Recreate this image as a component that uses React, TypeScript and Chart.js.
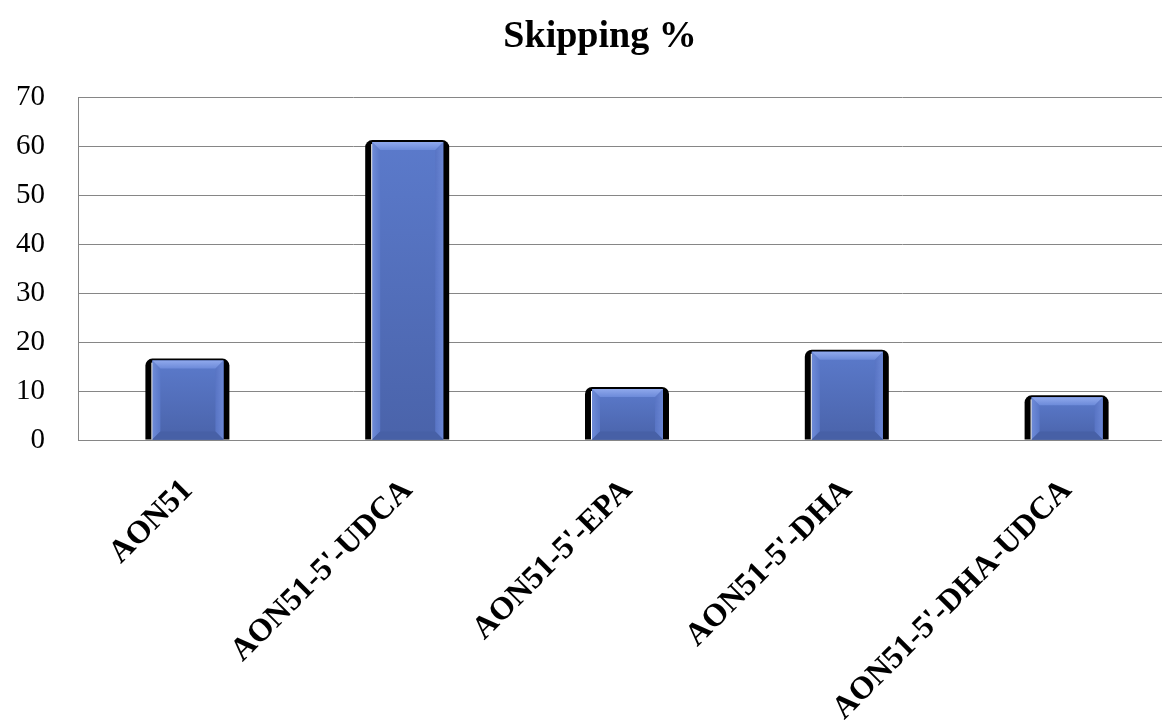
import React, { useEffect, useRef } from 'react';
import { Chart, registerables } from 'chart.js';

Chart.register(...registerables);

// Exon skipping efficiency per construct
const categories = ['AON51', "AON51-5'-UDCA", "AON51-5'-EPA", "AON51-5'-DHA", "AON51-5'-DHA-UDCA"];
const skippingPercent = [16.2, 60.8, 10.4, 18.0, 8.7];
const yTickValues = [0, 10, 20, 30, 40, 50, 60, 70];
const chartTitle = 'Skipping %';

const GRID = '#868686';
const SERIF = '"Liberation Serif", "DejaVu Serif", serif';

// Black drop shadow behind each bar, drawn before the bars themselves
const barShadow = {
  id: 'barShadow',
  beforeDatasetsDraw(chart: any) {
    const ctx = chart.ctx;
    const meta = chart.getDatasetMeta(0);
    ctx.save();
    meta.data.forEach((el: any) => {
      const { x, y, base, width } = el.getProps(['x', 'y', 'base', 'width'], true);
      const x0 = x - width / 2 - 7;
      const x1 = x + width / 2 + 6;
      const top = y - 2;
      ctx.beginPath();
      ctx.roundRect(x0, top, x1 - x0, base - top, [7, 7, 0, 0]);
      ctx.fillStyle = '#000';
      ctx.fill();
    });
    ctx.restore();
  },
};

// Bevelled blue body for each bar
const barBevel = {
  id: 'barBevel',
  afterDatasetsDraw(chart: any) {
    const ctx = chart.ctx;
    const meta = chart.getDatasetMeta(0);
    const yScale = chart.scales.y;
    const area = chart.chartArea;
    ctx.save();
    meta.data.forEach((el: any) => {
      const { x, y, base, width } = el.getProps(['x', 'y', 'base', 'width'], true);
      const x0 = x - width / 2;
      const x1 = x + width / 2;
      const h = base - y;
      const b = Math.min(8, h / 2);

      const body = ctx.createLinearGradient(0, y, 0, base);
      body.addColorStop(0, '#5b7acb');
      body.addColorStop(1, '#4a63aa');
      ctx.fillStyle = body;
      ctx.fillRect(x0, y, width, h);

      // left face
      const lg = ctx.createLinearGradient(x0, 0, x0 + b, 0);
      lg.addColorStop(0, '#6e8bd8');
      lg.addColorStop(1, '#5a78c8');
      ctx.fillStyle = lg;
      ctx.beginPath();
      ctx.moveTo(x0, y);
      ctx.lineTo(x0 + b, y + b);
      ctx.lineTo(x0 + b, base - b);
      ctx.lineTo(x0, base);
      ctx.closePath();
      ctx.fill();

      // right face
      const rg = ctx.createLinearGradient(x1 - b, 0, x1, 0);
      rg.addColorStop(0, '#5874c4');
      rg.addColorStop(1, '#6a86d4');
      ctx.fillStyle = rg;
      ctx.beginPath();
      ctx.moveTo(x1, y);
      ctx.lineTo(x1 - b, y + b);
      ctx.lineTo(x1 - b, base - b);
      ctx.lineTo(x1, base);
      ctx.closePath();
      ctx.fill();

      // bottom face
      ctx.fillStyle = '#4760a6';
      ctx.beginPath();
      ctx.moveTo(x0, base);
      ctx.lineTo(x0 + b, base - b);
      ctx.lineTo(x1 - b, base - b);
      ctx.lineTo(x1, base);
      ctx.closePath();
      ctx.fill();

      // top face
      const tg = ctx.createLinearGradient(0, y, 0, y + b);
      tg.addColorStop(0, '#8fa8ec');
      tg.addColorStop(1, '#6c8ad9');
      ctx.fillStyle = tg;
      ctx.beginPath();
      ctx.moveTo(x0, y);
      ctx.lineTo(x1, y);
      ctx.lineTo(x1 - b, y + b);
      ctx.lineTo(x0 + b, y + b);
      ctx.closePath();
      ctx.fill();

      // thin light edge on the left side
      ctx.fillStyle = '#ffffff';
      ctx.fillRect(x0 - 1, y + 2, 1, h - 2);
    });

    // zero line over the bar bases
    const y0 = Math.round(yScale.getPixelForValue(0)) + 0.5;
    ctx.strokeStyle = GRID;
    ctx.lineWidth = 1;
    ctx.beginPath();
    ctx.moveTo(area.left, y0);
    ctx.lineTo(area.right, y0);
    ctx.stroke();
    ctx.restore();
  },
};

const titlePlugin = {
  id: 'titleText',
  afterDraw(chart: any) {
    const ctx = chart.ctx;
    ctx.save();
    ctx.font = `bold 38px ${SERIF}`;
    ctx.fillStyle = '#000';
    ctx.textAlign = 'center';
    ctx.textBaseline = 'alphabetic';
    ctx.fillText(chartTitle, 600, 47);
    ctx.restore();
  },
};

export default function App() {
  const canvasRef = useRef<HTMLCanvasElement | null>(null);

  useEffect(() => {
    if (!canvasRef.current) return;
    const chart = new Chart(canvasRef.current, {
      type: 'bar',
      data: {
        labels: categories,
        datasets: [
          {
            data: skippingPercent,
            backgroundColor: '#5472c4',
            borderWidth: 0,
            barPercentage: 0.323,
            categoryPercentage: 1,
          },
        ],
      },
      options: {
        responsive: false,
        animation: false,
        devicePixelRatio: 1,
        layout: { padding: { top: 97, right: 0, left: 0, bottom: 0 } },
        plugins: {
          legend: { display: false },
          title: { display: false },
          tooltip: { enabled: false },
        },
        scales: {
          x: {
            offset: true,
            grid: { display: false, drawTicks: false },
            border: { display: true, color: GRID, width: 1 },
            ticks: {
              autoSkip: false,
              minRotation: 45,
              maxRotation: 45,
              padding: 32,
              color: '#000',
              font: { family: SERIF, size: 32, weight: 'bold' },
            },
            afterFit(scale: any) {
              scale.height = 282;
            },
          },
          y: {
            min: 0,
            max: 70,
            grid: { color: GRID, lineWidth: 1, drawTicks: false },
            border: { display: true, color: GRID, width: 1 },
            ticks: {
              stepSize: 10,
              padding: 33,
              color: '#000',
              font: { family: SERIF, size: 29 },
            },
            afterBuildTicks(scale: any) {
              scale.ticks = yTickValues.map((v) => ({ value: v }));
            },
            afterFit(scale: any) {
              scale.width = 78;
            },
          },
        },
      },
      plugins: [barShadow, barBevel, titlePlugin],
    });
    return () => chart.destroy();
  }, []);

  return (
    <div
      style={{
        position: 'fixed',
        left: 0,
        top: 0,
        width: 1162,
        height: 722,
        overflow: 'hidden',
        background: '#fff',
      }}
    >
      <canvas ref={canvasRef} width={1177} height={722} style={{ display: 'block' }} />
    </div>
  );
}
